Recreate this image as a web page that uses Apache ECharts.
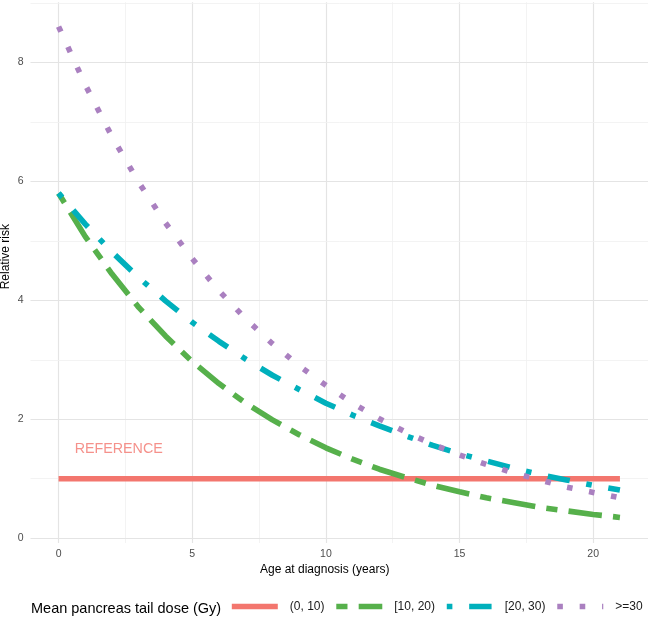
<!DOCTYPE html>
<html>
<head>
<meta charset="utf-8">
<script src="https://cdn.jsdelivr.net/npm/echarts@6/dist/echarts.min.js"></script>
<style>
html,body{margin:0;padding:0;background:#fff;}
#chart{width:648px;height:617px;}
</style>
</head>
<body>
<div id="chart"></div>
<script>
// ---- data ----
const ages = [0,1,2,3,4,5,6,7,8,9,10,11,12,13,14,15,16,17,18,19,20,21];
const risk10to20 = [5.80,5.07,4.44,3.88,3.40,2.97,2.60,2.27,1.99,1.74,1.52,1.33,1.16,1.02,0.89,0.78,0.68,0.60,0.52,0.46,0.40,0.35];
const risk20to30 = [5.80,5.28,4.81,4.38,3.99,3.63,3.31,3.01,2.74,2.50,2.27,2.07,1.89,1.72,1.56,1.42,1.30,1.18,1.07,0.98,0.89,0.81];
const risk30plus = [8.60,7.62,6.75,5.98,5.30,4.70,4.16,3.69,3.27,2.90,2.57,2.27,2.01,1.78,1.58,1.40,1.24,1.10,0.98,0.86,0.77,0.68];
const refAges = [0, 21];
const refRisk = [1, 1];
const seriesNames = ['(0, 10)', '[10, 20)', '[20, 30)', '>=30'];
const xTicks = [0, 5, 10, 15, 20];
const xMinor = [2.5, 7.5, 12.5, 17.5];
const yTicks = [0, 2, 4, 6, 8];
const yMinor = [1, 3, 5, 7, 9];
const refLabel = {x: 2.25, y: 1.5, text: 'REFERENCE'};

// ---- styles ----
const colors = ['#F3766E', '#56B04B', '#00B0BC', '#AA80C0'];
const lw = 5.6;
const dashTwo = [11.2, 11.2, 33.6, 11.2];
const dashDotDash = [5.6, 16.8, 22.4, 16.8];
const dashDot = [5.6, 16.8];

const zip = (xs, ys) => xs.map((x, i) => [x, ys[i]]);

const gridLines = [];
xTicks.forEach(v => gridLines.push({xAxis: v, lineStyle: {color: '#E4E4E4', width: 1.2, type: 'solid'}}));
xMinor.forEach(v => gridLines.push({xAxis: v, lineStyle: {color: '#F0F0F0', width: 0.8, type: 'solid'}}));
yTicks.forEach(v => gridLines.push({yAxis: v, lineStyle: {color: '#E4E4E4', width: 1.2, type: 'solid'}}));
yMinor.forEach(v => gridLines.push({yAxis: v, lineStyle: {color: '#F0F0F0', width: 0.8, type: 'solid'}}));

const chart = echarts.init(document.getElementById('chart'), null, {renderer: 'canvas'});
const font = 'Liberation Sans, Arial, sans-serif';

chart.setOption({
  animation: false,
  backgroundColor: '#ffffff',
  grid: {left: 30.5, right: 0, top: 2.2, bottom: 74, containLabel: false},
  xAxis: {
    type: 'value', min: -1.05, max: 22.05,
    axisLine: {show: false}, axisTick: {show: false, customValues: xTicks},
    splitLine: {show: false},
    axisLabel: {customValues: xTicks, color: '#4D4D4D', fontSize: 10.5, fontFamily: font, margin: 6}
  },
  yAxis: {
    type: 'value', min: -0.08, max: 9.01,
    axisLine: {show: false}, axisTick: {show: false, customValues: yTicks},
    splitLine: {show: false},
    axisLabel: {customValues: yTicks, color: '#4D4D4D', fontSize: 10.5, fontFamily: font, margin: 7}
  },
  legend: {
    data: seriesNames,
    left: 229, top: 600.5, width: 600, padding: 0,
    itemWidth: 46, itemHeight: 14, itemGap: 9,
    itemStyle: {opacity: 0},
    lineStyle: {width: lw},
    textStyle: {fontSize: 12, color: '#1A1A1A', fontFamily: font, padding: [0, 0, 0, 7]}
  },
  graphic: [
    {type: 'text', x: 31, y: 609, style: {text: 'Mean pancreas tail dose (Gy)', font: '14.5px ' + font, fill: '#000', verticalAlign: 'middle'}},
    {type: 'text', left: 260, top: 564, style: {text: 'Age at diagnosis (years)', font: '12px ' + font, fill: '#000'}},
    {type: 'text', left: 0, top: 224, rotation: Math.PI / 2, originX: 0, originY: 0, style: {text: 'Relative risk', font: '12px ' + font, fill: '#000'}}
  ],
  series: [
    {
      name: 'gridhelper', type: 'scatter', data: [], z: 0, silent: true,
      markLine: {silent: true, z: 0, symbol: ['none', 'none'], label: {show: false}, animation: false, data: gridLines}
    },
    {
      name: seriesNames[0], type: 'line', data: zip(refAges, refRisk), showSymbol: false, symbol: 'none',
      color: colors[0], lineStyle: {width: lw, color: colors[0], cap: 'butt'}, z: 3
    },
    {
      name: seriesNames[1], type: 'line', data: zip(ages, risk10to20), showSymbol: false, symbol: 'none',
      color: colors[1], lineStyle: {width: lw, color: colors[1], type: dashTwo, cap: 'butt'}, z: 4
    },
    {
      name: seriesNames[2], type: 'line', data: zip(ages, risk20to30), showSymbol: false, symbol: 'none',
      color: colors[2], lineStyle: {width: lw, color: colors[2], type: dashDotDash, cap: 'butt'}, z: 5
    },
    {
      name: seriesNames[3], type: 'line', data: zip(ages, risk30plus), showSymbol: false, symbol: 'none',
      color: colors[3], lineStyle: {width: lw, color: colors[3], type: dashDot, cap: 'butt'}, z: 6
    },
    {
      name: 'annot', type: 'scatter', data: [[refLabel.x, refLabel.y]], symbolSize: 1, z: 7, silent: true,
      itemStyle: {color: 'rgba(0,0,0,0)'},
      label: {show: true, position: 'inside', formatter: refLabel.text, color: colors[0], fontSize: 14.3, fontFamily: font}
    }
  ]
});
</script>
</body>
</html>
